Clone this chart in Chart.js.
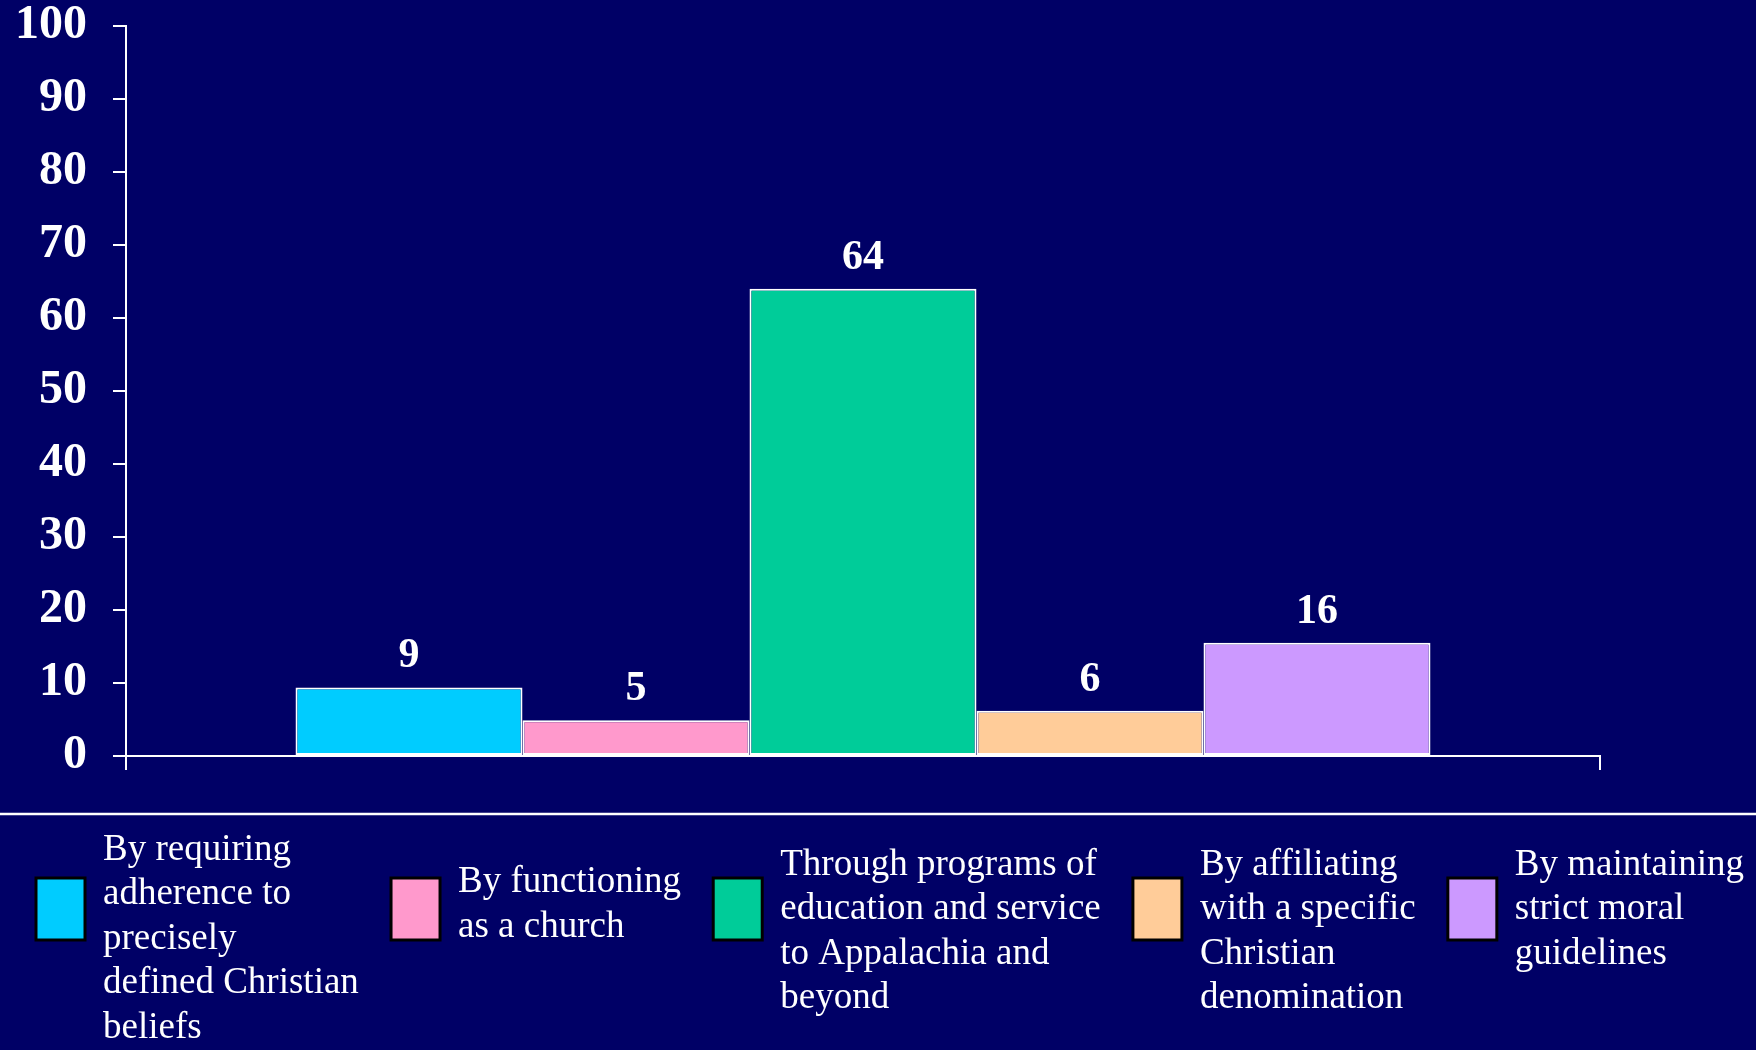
<!DOCTYPE html>
<html>
<head>
<meta charset="utf-8">
<script src="https://cdn.jsdelivr.net/npm/chart.js@4.4.0/dist/chart.umd.min.js"></script>
<style>
  html, body { margin: 0; padding: 0; background: #000066; }
  canvas { display: block; }
</style>
</head>
<body>
<canvas id="chart" width="1756" height="1050"></canvas>
<script>
const CATEGORIES = [""];
const SERIES_NAMES = [
  ["By requiring", "adherence to", "precisely", "defined Christian", "beliefs"],
  ["By functioning", "as a church"],
  ["Through programs of", "education and service", "to Appalachia and", "beyond"],
  ["By affiliating", "with a specific", "Christian", "denomination"],
  ["By maintaining", "strict moral", "guidelines"]
];
const SERIES_VALUES = [9.4, 4.9, 64, 6.2, 15.5];
const SERIES_COLORS = ["#00ccff", "#ff99cc", "#00cc99", "#ffcc99", "#cc99ff"];
const Y_MIN = 0;
const Y_MAX = 100;
const Y_STEP = 10;

const BACKGROUND = "#000066";
const SERIF = "'Liberation Serif', 'Times New Roman', serif";

Chart.defaults.font.family = SERIF;
Chart.defaults.color = "#ffffff";

const background = {
  id: "background",
  beforeDraw(chart) {
    const ctx = chart.ctx;
    ctx.save();
    ctx.fillStyle = BACKGROUND;
    ctx.fillRect(0, 0, chart.width, chart.height);
    ctx.restore();
  }
};

// Numbers above each bar
const valueLabels = {
  id: "valueLabels",
  afterDatasetsDraw(chart) {
    const ctx = chart.ctx;
    ctx.save();
    ctx.font = `bold 42px ${SERIF}`;
    ctx.fillStyle = "#ffffff";
    ctx.textAlign = "center";
    ctx.textBaseline = "alphabetic";
    chart.data.datasets.forEach((ds, i) => {
      const bar = chart.getDatasetMeta(i).data[0];
      ctx.fillText(Math.round(ds.data[0]).toString(), bar.x, bar.y - 20);
    });
    ctx.restore();
  }
};

// Separator line and the legend row under the chart
const bottomLegend = {
  id: "bottomLegend",
  afterDraw(chart) {
    const ctx = chart.ctx;
    const sepY = 814;
    const boxW = 49, boxH = 62, boxTop = 878, textGap = 18;
    const lineH = 44.5, minFirst = 865, maxLast = 1028;
    const left = 36, right = 1744;

    ctx.save();
    ctx.strokeStyle = "#ffffff";
    ctx.lineWidth = 2.5;
    ctx.beginPath();
    ctx.moveTo(0, sepY);
    ctx.lineTo(chart.width, sepY);
    ctx.stroke();

    ctx.font = `37px ${SERIF}`;
    const widths = SERIES_NAMES.map((lines) =>
      Math.max(...lines.map((l) => ctx.measureText(l).width))
    );
    const used = widths.reduce((a, w) => a + boxW + textGap + w, 0);
    const gap = (right - left - used) / (SERIES_NAMES.length - 1);

    let x = left;
    const boxMid = boxTop + boxH / 2 - 4;
    SERIES_NAMES.forEach((lines, i) => {
      ctx.fillStyle = SERIES_COLORS[i];
      ctx.fillRect(x, boxTop, boxW, boxH);
      ctx.strokeStyle = "#000000";
      ctx.lineWidth = 3;
      ctx.strokeRect(x, boxTop, boxW, boxH);

      ctx.fillStyle = "#ffffff";
      ctx.textAlign = "left";
      ctx.textBaseline = "middle";
      const span = (lines.length - 1) * lineH;
      let first = Math.max(boxMid - span / 2, minFirst);
      first = Math.min(first, maxLast - span);
      lines.forEach((line, j) => {
        ctx.fillText(line, x + boxW + textGap, first + j * lineH);
      });
      x += boxW + textGap + widths[i] + gap;
    });
    ctx.restore();
  }
};

new Chart(document.getElementById("chart"), {
  type: "bar",
  data: {
    labels: CATEGORIES,
    datasets: SERIES_NAMES.map((lines, i) => ({
      label: lines.join(" "),
      data: [SERIES_VALUES[i]],
      backgroundColor: SERIES_COLORS[i],
      borderColor: "#ffffff",
      borderWidth: 2,
      borderSkipped: false,
      categoryPercentage: 0.77,
      barPercentage: 1.0
    }))
  },
  options: {
    responsive: false,
    animation: false,
    layout: { padding: { left: -11, top: 26, right: 156, bottom: 280 } },
    plugins: {
      legend: { display: false },
      tooltip: { enabled: false }
    },
    scales: {
      x: {
        grid: {
          offset: true,
          drawOnChartArea: false,
          drawTicks: true,
          tickLength: 14,
          color: "#ffffff",
          lineWidth: 2
        },
        ticks: { display: false },
        border: { color: "#ffffff", width: 2 }
      },
      y: {
        min: Y_MIN,
        max: Y_MAX,
        ticks: {
          stepSize: Y_STEP,
          color: "#ffffff",
          padding: 26,
          font: { size: 48, weight: "bold", lineHeight: 0 }
        },
        grid: {
          drawOnChartArea: false,
          drawTicks: true,
          tickLength: 13,
          color: "#ffffff",
          lineWidth: 2
        },
        border: { color: "#ffffff", width: 2 }
      }
    }
  },
  plugins: [background, valueLabels, bottomLegend]
});
</script>
</body>
</html>
